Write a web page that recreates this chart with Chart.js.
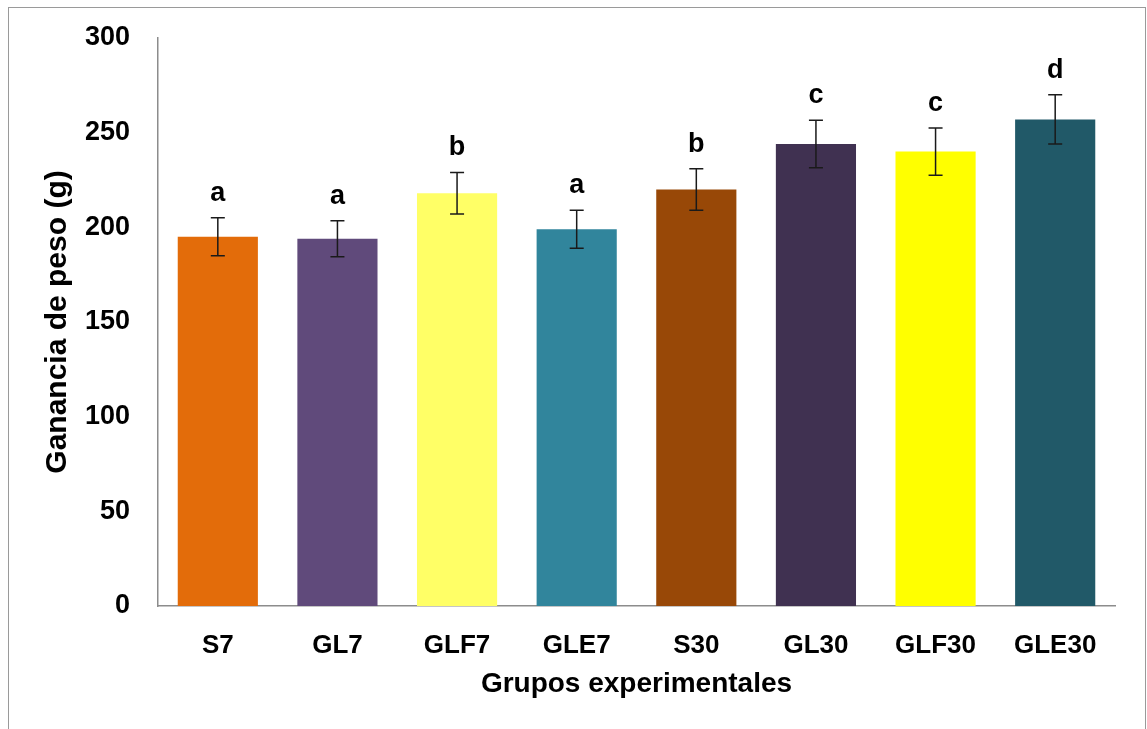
<!DOCTYPE html>
<html>
<head>
<meta charset="utf-8">
<script src="https://cdn.jsdelivr.net/npm/chart.js@4/dist/chart.umd.min.js"></script>
<style>
    body { margin: 0; background: #fff; }
    #wrap { position: relative; width: 1147px; height: 729px; overflow: hidden; }
    #frame { position: absolute; left: 8px; top: 7px; width: 1136px; height: 740px; border: 1px solid #9a9a9a; }
    canvas { position: absolute; left: 0; top: 0; }
</style>
</head>
<body>
<div id="wrap">
    <div id="frame"></div>
    <canvas id="chart" width="1147" height="729"></canvas>
</div>
<script>
// Datos
const groups = ['S7', 'GL7', 'GLF7', 'GLE7', 'S30', 'GL30', 'GLF30', 'GLE30'];
const means = [195, 194, 218, 199, 220, 244, 240, 257];
const errors = [10, 9.5, 11, 10, 11, 12.5, 12.5, 13];
const letters = ['a', 'a', 'b', 'a', 'b', 'c', 'c', 'd'];
const barColors = ['#E36C0A', '#604A7B', '#FFFF66', '#31859C', '#984807', '#403151', '#FFFF00', '#215968'];
const yTicks = [0, 50, 100, 150, 200, 250, 300];

const font = "'Liberation Sans', Arial, sans-serif";

// Barras de error y letras
const errorBars = {
    id: 'errorBars',
    afterDatasetsDraw(chart) {
        const ctx = chart.ctx;
        const meta = chart.getDatasetMeta(0);
        const y = chart.scales.y;
        ctx.save();
        ctx.strokeStyle = '#1a1a1a';
        ctx.lineWidth = 1.5;
        meta.data.forEach((bar, i) => {
            const x = bar.x;
            const top = y.getPixelForValue(means[i] + errors[i]);
            const bottom = y.getPixelForValue(means[i] - errors[i]);
            ctx.beginPath();
            ctx.moveTo(x, top); ctx.lineTo(x, bottom);
            ctx.moveTo(x - 7, top); ctx.lineTo(x + 7, top);
            ctx.moveTo(x - 7, bottom); ctx.lineTo(x + 7, bottom);
            ctx.stroke();

            ctx.fillStyle = '#000';
            ctx.font = 'bold 27px ' + font;
            ctx.textAlign = 'center';
            ctx.textBaseline = 'alphabetic';
            ctx.fillText(letters[i], x, top - 17);
        });
        ctx.restore();
    }
};

new Chart(document.getElementById('chart'), {
    type: 'bar',
    data: {
        labels: groups,
        datasets: [{
            data: means,
            backgroundColor: barColors,
            borderWidth: 0,
            barPercentage: 0.67,
            categoryPercentage: 1
        }]
    },
    options: {
        responsive: false,
        devicePixelRatio: 1,
        animation: false,
        layout: { padding: { left: 36, right: 32, top: 38, bottom: 28 } },
        plugins: {
            legend: { display: false },
            tooltip: { enabled: false }
        },
        scales: {
            x: {
                grid: { display: false, drawTicks: false },
                border: { display: true, color: '#8c8c8c', width: 1.5 },
                ticks: {
                    color: '#000',
                    padding: 24,
                    font: { family: font, size: 26, weight: 'bold' }
                },
                title: {
                    display: true,
                    text: 'Grupos experimentales',
                    color: '#000',
                    padding: { top: 4, bottom: 0 },
                    font: { family: font, size: 28, weight: 'bold' }
                },
                afterFit(scale) { scale.height = 95; }
            },
            y: {
                min: 0,
                max: 300,
                afterBuildTicks(scale) { scale.ticks = yTicks.map(v => ({ value: v })); },
                grid: { display: false, drawTicks: false },
                border: { display: true, color: '#8c8c8c', width: 1.5 },
                ticks: {
                    color: '#000',
                    padding: 28,
                    font: { family: font, size: 27, weight: 'bold' }
                },
                title: {
                    display: true,
                    text: 'Ganancia de peso (g)',
                    color: '#000',
                    font: { family: font, size: 30, weight: 'bold' }
                },
                afterFit(scale) {
                    scale.width = 122;
                    scale.paddingTop = 10;
                    scale.paddingBottom = 10;
                }
            }
        }
    },
    plugins: [errorBars]
});
</script>
</body>
</html>
